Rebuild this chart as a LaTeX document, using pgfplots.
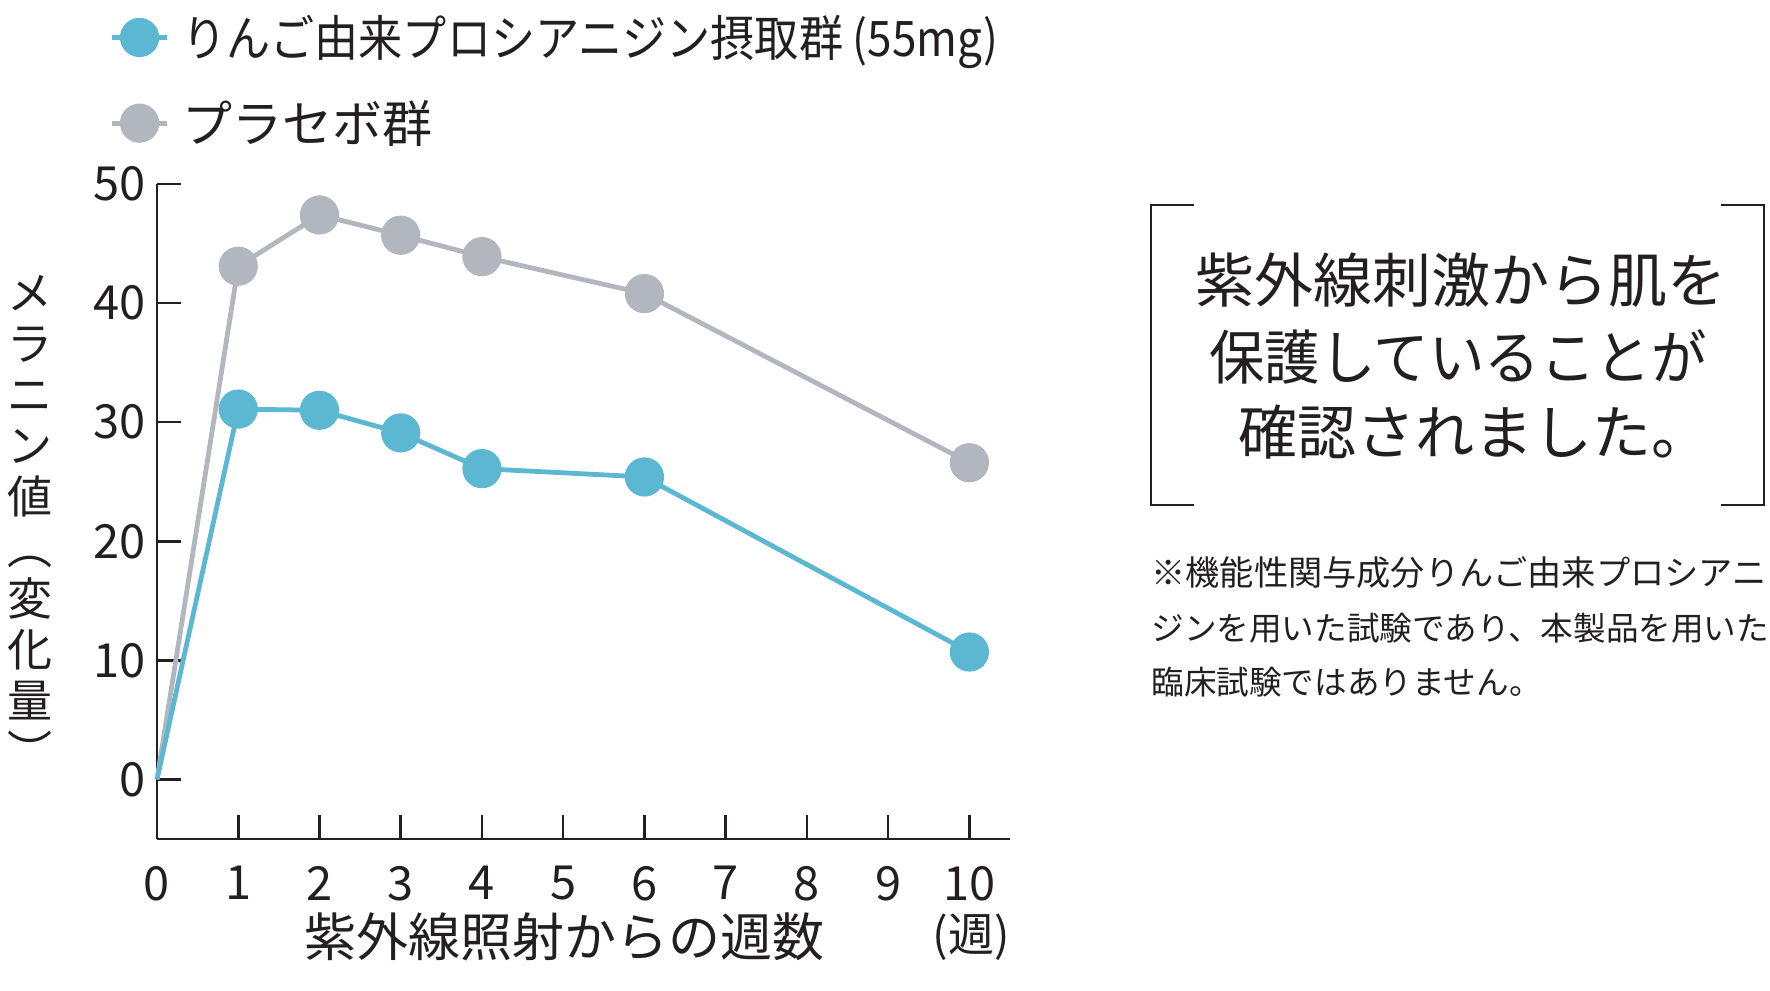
\documentclass[border=0pt]{standalone}
\usepackage{pgfplots}
\pgfplotsset{compat=1.18}
\usepackage{fontspec}
\setmainfont{Noto Sans CJK JP}
\newfontfamily\numfont{Noto Sans CJK JP}
\newfontfamily\condfont[FakeStretch=0.9]{Noto Sans CJK JP}
\newfontfamily\slimfont[FakeStretch=0.94]{Noto Sans CJK JP}

\definecolor{appleblue}{HTML}{5CB8D2}
\definecolor{placebogray}{HTML}{B2B6BE}
\definecolor{ink}{HTML}{231F20}

% melanin value change by week after UV exposure
\pgfplotstableread{
week value
0 0
1 31.1
2 31.0
3 29.1
4 26.1
6 25.4
10 10.7
}\appletable
\pgfplotstableread{
week value
0 0
1 43.1
2 47.4
3 45.7
4 43.9
6 40.8
10 26.6
}\placebotable

\begin{document}
\begin{tikzpicture}
\useasboundingbox (0,0) rectangle (885pt,-495pt);

\begin{axis}[
  at={(78.5pt,-419.5pt)}, anchor=south west,
  scale only axis, width=426.5pt, height=327.5pt,
  xmin=0, xmax=10.5, ymin=-5, ymax=50,
  axis x line=bottom, axis y line=left,
  axis line style={-, line width=1.4pt, ink},
  xtick={0,1,...,10}, ytick={0,10,...,50},
  tick align=inside, major tick length=12pt,
  tick style={line width=1.3pt, ink},
  /pgf/number format/assume math mode=true,
  ticklabel style={font=\numfont\fontsize{23.5}{23.5}\selectfont, text=ink},
  xticklabel style={yshift=-10pt},
  yticklabel style={xshift=-2pt},
  clip=false,
  reverse legend,
  legend style={at={(axis description cs:-0.063,1.158)}, anchor=west,
    draw=none, fill=none, font=\fontsize{25}{25}\selectfont,
    text=ink, row sep=16.5pt, cells={anchor=west}},
  legend image code/.code={
    \draw[#1, mark repeat=2, mark phase=2]
      plot coordinates {(0pt,0pt) (13.75pt,0pt) (27.5pt,0pt)};
    \path (32pt,0pt);},
]
\addplot[placebogray, line width=2.4pt, mark=*, mark size=8.6pt,
  mark phase=2, mark repeat=1, mark options={solid, fill=placebogray, draw=placebogray}]
  table[x=week, y=value] {\placebotable};
\addlegendentry{プラセボ群}
\addplot[appleblue, line width=2.4pt, mark=*, mark size=8.6pt,
  mark phase=2, mark repeat=1, mark options={solid, fill=appleblue, draw=appleblue}]
  table[x=week, y=value] {\appletable};
\addlegendentry{\condfont\fontsize{24.5}{24.5}\selectfont りんご由来プロシアニジン摂取群 (55mg)}
\end{axis}

\begin{scope}[x=0.5pt, y=-0.5pt, text=ink]
  % vertical y-axis title
  \node[align=center, font=\fontsize{22.5}{25.5}\selectfont] at (30,522)
    {メ\\ラ\\ニ\\ン\\値\\︵\\変\\化\\量\\︶};
  % x-axis title and unit
  \node[font=\fontsize{26}{26}\selectfont] at (564,937) {紫外線照射からの週数};
  \node[font=\fontsize{23}{23}\selectfont] at (971,937) {(週)};

  % bracketed message
  \draw[ink, line width=1.4pt] (1194,205) -- (1151,205) -- (1151,505) -- (1194,505);
  \draw[ink, line width=1.4pt] (1721,205) -- (1764,205) -- (1764,505) -- (1721,505);
  \begin{scope}[every node/.style={font=\fontsize{29.5}{29.5}\selectfont}]
    \node at (1461,280) {紫外線刺激から肌を};
    \node[font=\slimfont\fontsize{29.5}{29.5}\selectfont] at (1458,357) {保護していることが};
    \node at (1474,432) {確認されました。};
  \end{scope}

  % footnote
  \begin{scope}[every node/.style={anchor=west, inner sep=0pt}]
    \node[font=\fontsize{17.1}{17.1}\selectfont] at (1151,573) {※機能性関与成分りんご由来プロシアニ};
    \node[font=\fontsize{16.3}{16.3}\selectfont] at (1151,628) {ジンを用いた試験であり、本製品を用いた};
    \node[font=\fontsize{16.3}{16.3}\selectfont] at (1151,682) {臨床試験ではありません。};
  \end{scope}
\end{scope}
\end{tikzpicture}
\end{document}
